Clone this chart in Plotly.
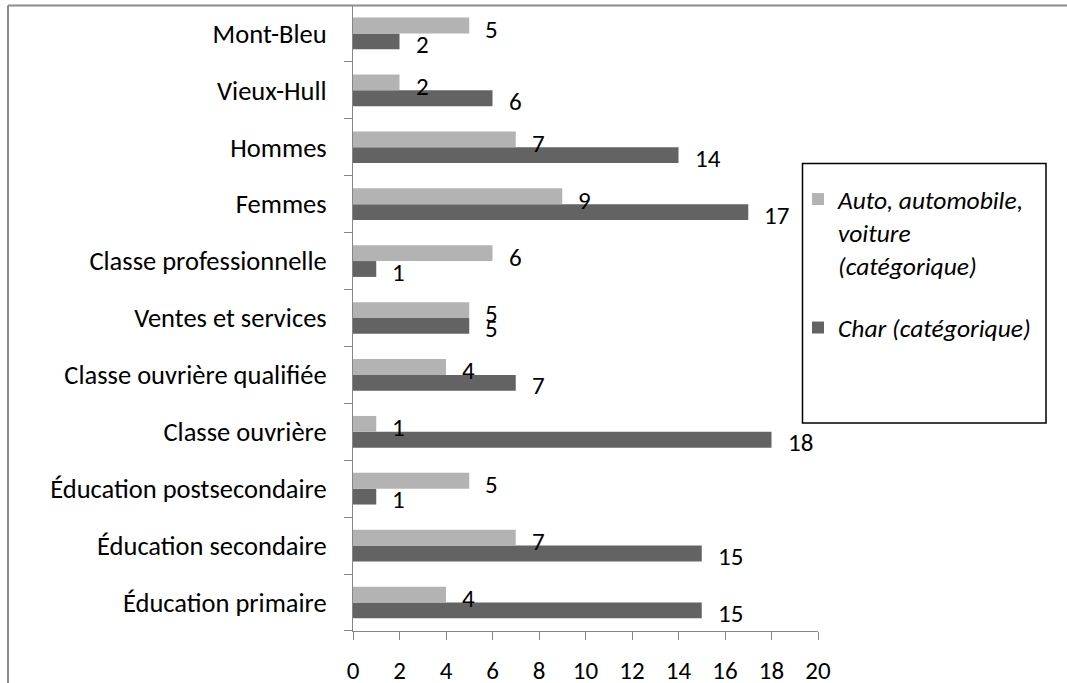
import plotly.graph_objects as go

# Categories listed from bottom to top
categories = [
    "Éducation primaire",
    "Éducation secondaire",
    "Éducation postsecondaire",
    "Classe ouvrière",
    "Classe ouvrière qualifiée",
    "Ventes et services",
    "Classe professionnelle",
    "Femmes",
    "Hommes",
    "Vieux-Hull",
    "Mont-Bleu",
]
auto_values = [4, 7, 5, 1, 4, 5, 6, 9, 7, 2, 5]
char_values = [15, 15, 1, 18, 7, 5, 1, 17, 14, 6, 2]
auto_name = "Auto, automobile,<br>voiture<br>(catégorique)"
char_name = "Char (catégorique)"
x_ticks = [0, 2, 4, 6, 8, 10, 12, 14, 16, 18, 20]

FONT = "Carlito, Calibri, 'Noto Sans', sans-serif"
LIGHT = "#b3b3b3"
DARK = "#636363"
AXIS = "#868686"

W, H = 1067, 683
ML, MR, MT, MB = 353, 249, 5, 52
PW, PH = W - ML - MR, H - MT - MB


def px_x(p):
    return (p - ML) / PW


def px_y(p):
    return (H - MB - p) / PH


fig = go.Figure()
fig.add_trace(go.Bar(
    y=categories, x=char_values, orientation="h", name=char_name,
    marker=dict(color=DARK, line=dict(width=0)), legendrank=2,
    legendgroup="b",
))
fig.add_trace(go.Bar(
    y=categories, x=auto_values, orientation="h", name=auto_name,
    marker=dict(color=LIGHT, line=dict(width=0)), legendrank=1,
    legendgroup="a",
))

annotations = []
for cat, a, c in zip(categories, auto_values, char_values):
    annotations.append(dict(x=a, y=cat, xref="x", yref="y", text=str(a),
                            showarrow=False, xanchor="left", yanchor="middle",
                            xshift=14, yshift=4,
                            font=dict(family=FONT, size=25, color="black")))
    annotations.append(dict(x=c, y=cat, xref="x", yref="y", text=str(c),
                            showarrow=False, xanchor="left", yanchor="middle",
                            xshift=14, yshift=-11,
                            font=dict(family=FONT, size=25, color="black")))

shapes = [
    # outer chart border (top and left)
    dict(type="line", xref="paper", yref="paper",
         x0=px_x(8), x1=px_x(1067), y0=px_y(5.5), y1=px_y(5.5),
         line=dict(color="#8c8c8c", width=2)),
    dict(type="line", xref="paper", yref="paper",
         x0=px_x(8), x1=px_x(8), y0=px_y(5.5), y1=px_y(700),
         line=dict(color="#8c8c8c", width=2)),
    # legend box
    dict(type="rect", xref="paper", yref="paper",
         x0=px_x(802.5), x1=px_x(1046), y0=px_y(423), y1=px_y(163.5),
         line=dict(color="black", width=1.5), fillcolor="rgba(0,0,0,0)"),
]

fig.update_layout(
    width=W, height=H,
    margin=dict(l=ML, r=MR, t=MT, b=MB, pad=0, autoexpand=False),
    paper_bgcolor="white", plot_bgcolor="white",
    barmode="group", bargap=0.443, bargroupgap=0,
    font=dict(family=FONT, size=26.5, color="black"),
    showlegend=True,
    legend=dict(
        x=px_x(798), y=px_y(176), xanchor="left", yanchor="top",
        bgcolor="rgba(0,0,0,0)", borderwidth=0,
        font=dict(family=FONT, size=25.5, color="black", style="italic"),
        valign="top", traceorder="grouped", tracegroupgap=26,
        itemclick=False, itemdoubleclick=False,
    ),
    xaxis=dict(
        range=[0, 20], tickvals=x_ticks, ticktext=[str(v) for v in x_ticks],
        showgrid=False, zeroline=False, automargin=False,
        showline=True, linecolor=AXIS, linewidth=1,
        ticks="outside", ticklen=8, tickcolor=AXIS, tickwidth=1,
        tickfont=dict(family=FONT, size=25, color="black"),
        ticklabelstandoff=9, fixedrange=True,
    ),
    yaxis=dict(
        type="category", categoryorder="array", categoryarray=categories,
        showgrid=False, zeroline=False, automargin=False,
        showline=True, linecolor=AXIS, linewidth=1,
        ticks="outside", ticklen=8, tickcolor=AXIS, tickwidth=1,
        tickson="boundaries",
        tickfont=dict(family=FONT, size=26.5, color="black"),
        ticklabelstandoff=20, fixedrange=True,
    ),
    annotations=annotations,
    shapes=shapes,
)

fig.write_html(
    "out.html",
    config={"displayModeBar": False},
    post_script="document.body.style.margin='0';document.body.style.overflow='hidden';",
)
